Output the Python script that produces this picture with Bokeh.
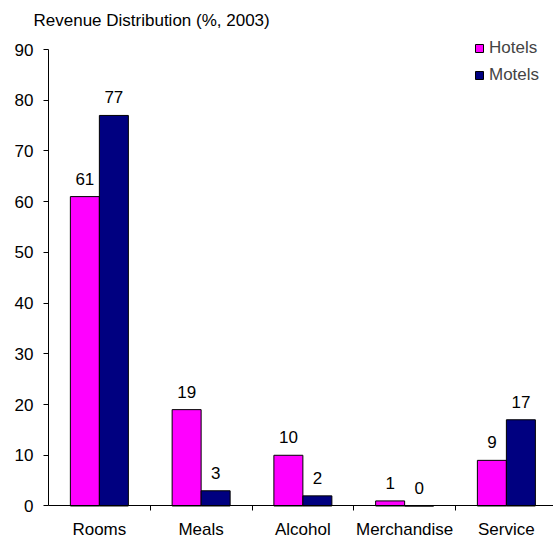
from bokeh.plotting import figure
from bokeh.models import (ColumnDataSource, Range1d, FixedTicker, Label, Legend,
                          LegendItem, LinearAxis)
from bokeh.transform import dodge
from bokeh.core.properties import value
from bokeh.embed import file_html
from bokeh.resources import INLINE

categories = ["Rooms", "Meals", "Alcohol", "Merchandise", "Service"]
hotels = [61, 19, 10, 1, 9]
motels = [77, 3, 2, 0, 17]
y_ticks = [0, 10, 20, 30, 40, 50, 60, 70, 80, 90]
title_text = "Revenue Distribution (%, 2003)"

FONT = "Liberation Sans"
FS = "17px"

centers = [i + 0.5 for i in range(len(categories))]
bounds_ticks = [i for i in range(1, len(categories))]

src = ColumnDataSource(dict(
    x=centers,
    hotels=hotels,
    motels=motels,
    hl=[str(v) for v in hotels],
    ml=[str(v) for v in motels],
))

p = figure(width=553, height=540,
           x_range=Range1d(-0.4717, 4.963), y_range=Range1d(-6.802, 99.661),
           x_axis_location=None, y_axis_location=None,
           output_backend="svg", toolbar_location=None,
           min_border_left=0, min_border_right=0,
           min_border_top=0, min_border_bottom=0)

bw = 0.285
rh = p.vbar(x=dodge("x", -bw / 2, range=p.x_range), top="hotels", width=bw, source=src,
            fill_color="#FF00FF", line_color="black", line_width=1)
rm = p.vbar(x=dodge("x", bw / 2, range=p.x_range), top="motels", width=bw, source=src,
            fill_color="#000080", line_color="black", line_width=1)

for col, lab, off in (("hotels", "hl", -bw / 2), ("motels", "ml", bw / 2)):
    p.text(x=dodge("x", off, range=p.x_range), y=col, text=lab, source=src,
           text_align="center", text_baseline="middle", y_offset=-18,
           text_font=value(FONT), text_font_size=FS, text_color="black")

p.grid.visible = False
p.outline_line_color = None

# y axis fixed at x = 0
yax = LinearAxis(fixed_location=0, ticker=FixedTicker(ticks=y_ticks), bounds=(0, 90))
yax.major_tick_out = 5
yax.major_tick_in = 0
yax.minor_tick_line_color = None
yax.major_label_standoff = 10
yax.major_label_text_font = FONT
yax.major_label_text_font_size = FS
yax.major_label_text_color = "black"
yax.axis_line_color = "black"
yax.major_tick_line_color = "black"
p.add_layout(yax, "left")

# x axis fixed at y = 0
xax = LinearAxis(fixed_location=0, ticker=FixedTicker(ticks=centers, minor_ticks=bounds_ticks),
                 bounds=(0, 5))
xax.major_label_overrides = {c: n for c, n in zip(centers, categories)}
xax.major_tick_line_color = None
xax.major_tick_out = 0
xax.major_tick_in = 0
xax.minor_tick_line_color = "black"
xax.minor_tick_out = 5
xax.minor_tick_in = 0
xax.major_label_standoff = 9
xax.major_label_text_font = FONT
xax.major_label_text_font_size = FS
xax.major_label_text_color = "black"
xax.axis_line_color = "black"
p.add_layout(xax, "below")

# title
p.add_layout(Label(x=0, y=95.72, x_offset=-15, text=title_text, text_align="left",
                   text_baseline="middle", text_font=FONT, text_font_size=FS,
                   text_color="black"))

legend = Legend(items=[LegendItem(label="Hotels", renderers=[rh]),
                       LegendItem(label="Motels", renderers=[rm])],
                location=(474, 455), orientation="vertical",
                glyph_width=10, glyph_height=10, label_height=20, spacing=7,
                padding=0, margin=0, label_standoff=5,
                label_text_font=FONT, label_text_font_size=FS,
                border_line_color=None, background_fill_alpha=0)
p.add_layout(legend)

open("out.html", "w").write(file_html(p, INLINE))
